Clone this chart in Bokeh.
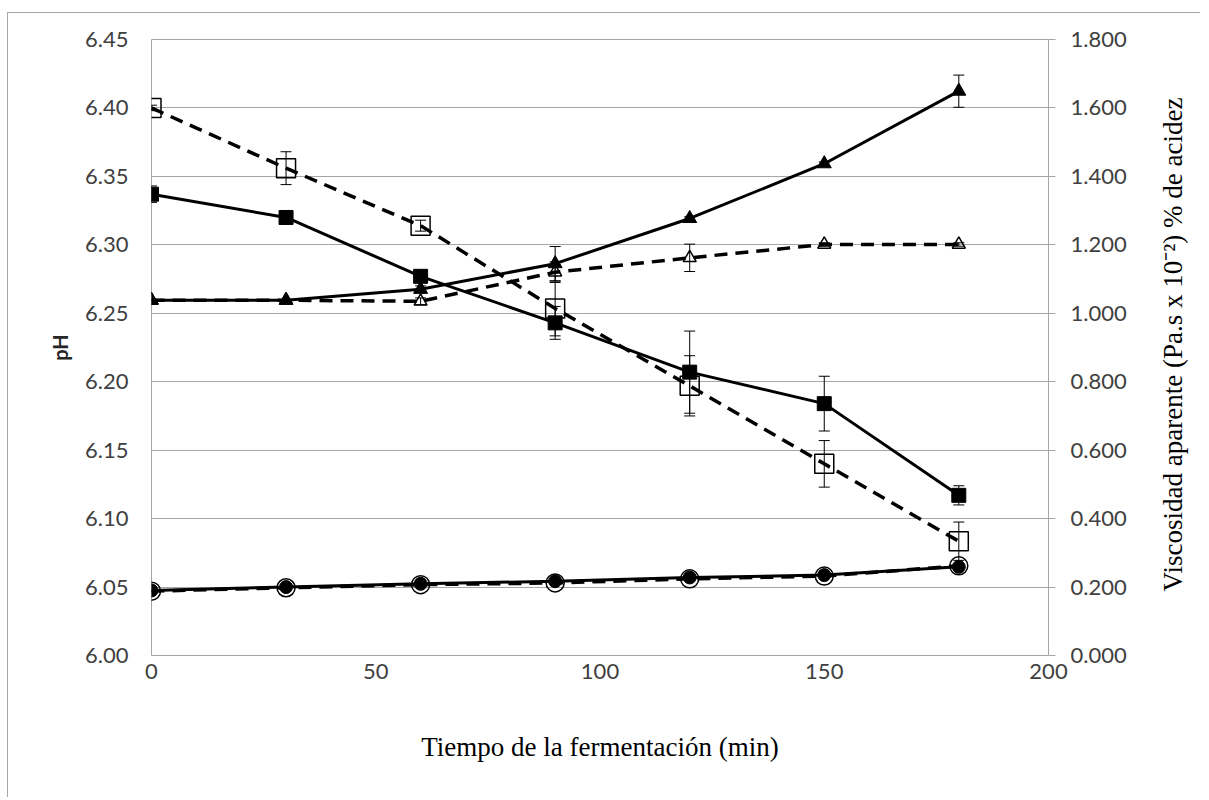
import math
from bokeh.plotting import figure
from bokeh.layouts import row
from bokeh.models import (Range1d, LinearAxis, FixedTicker, NumeralTickFormatter,
                          Whisker, TeeHead, ColumnDataSource, Label)
from bokeh.embed import file_html
from bokeh.resources import INLINE

# ---- data ----
tiempo = [0, 30, 60, 90, 120, 150, 180]

ph_lleno = [6.337, 6.320, 6.277, 6.243, 6.207, 6.184, 6.117]
ph_lleno_err = [0.006, 0.002, 0.003, 0.012, 0.030, 0.020, 0.007]
ph_vacio = [6.400, 6.356, 6.314, 6.2535, 6.197, 6.140, 6.0835]
ph_vacio_err = [0.002, 0.012, 0.004, 0.020, 0.022, 0.017, 0.014]

visc_lleno = [1.038, 1.038, 1.070, 1.145, 1.277, 1.437, 1.649]
visc_lleno_err = [0.0, 0.0, 0.010, 0.050, 0.005, 0.005, 0.047]
visc_vacio = [1.038, 1.038, 1.035, 1.120, 1.162, 1.201, 1.201]
visc_vacio_err = [0.0, 0.0, 0.010, 0.030, 0.040, 0.005, 0.005]

acid_lleno = [0.190, 0.200, 0.2095, 0.217, 0.228, 0.235, 0.259]
acid_vacio = [0.188, 0.198, 0.207, 0.212, 0.224, 0.232, 0.262]

x_ticks = [0, 50, 100, 150, 200]
ph_ticks = [6.00, 6.05, 6.10, 6.15, 6.20, 6.25, 6.30, 6.35, 6.40, 6.45]
der_ticks = [0.0, 0.2, 0.4, 0.6, 0.8, 1.0, 1.2, 1.4, 1.6, 1.8]

right_title = "Viscosidad aparente (Pa.s x 10\u207b\u00b2) % de acidez"

GRAY = "#a6a6a6"
TICK_COLOR = "#404040"

p = figure(width=1132, height=784, x_range=Range1d(0, 200), y_range=Range1d(6.0, 6.45),
           output_backend="svg", toolbar_location=None,
           min_border_left=143, min_border_right=92, min_border_top=26, min_border_bottom=142)
p.extra_y_ranges = {"der": Range1d(0, 1.8)}
p.background_fill_color = "white"
p.border_fill_color = "white"
p.outline_line_color = GRAY
p.outline_line_width = 1
p.outline_line_alpha = 1

# grid
p.xgrid.visible = False
p.ygrid.ticker = FixedTicker(ticks=ph_ticks)
p.ygrid.grid_line_color = GRAY
p.ygrid.grid_line_width = 1

# x axis
xa = p.xaxis[0]
xa.ticker = FixedTicker(ticks=x_ticks)
xa.axis_line_color = None
xa.major_tick_in = 0
xa.major_tick_out = 0
xa.minor_tick_line_color = None
xa.major_label_text_font = "Lato"
xa.major_label_text_font_size = "22px"
xa.major_label_text_color = TICK_COLOR
xa.major_label_standoff = 8
xa.axis_label = "Tiempo de la fermentación (min)"
xa.axis_label_text_font = "Liberation Serif"
xa.axis_label_text_font_style = "normal"
xa.axis_label_text_font_size = "27px"
xa.axis_label_text_color = "black"
xa.axis_label_standoff = 50

# left axis
ya = p.yaxis[0]
ya.ticker = FixedTicker(ticks=ph_ticks)
ya.formatter = NumeralTickFormatter(format="0.00")
ya.axis_line_color = None
ya.major_tick_in = 0
ya.major_tick_out = 0
ya.minor_tick_line_color = None
ya.major_label_text_font = "Lato"
ya.major_label_text_font_size = "22px"
ya.major_label_text_color = TICK_COLOR
ya.major_label_standoff = 23
ya.axis_label = "pH"
ya.axis_label_text_font = "Lato"
ya.axis_label_text_font_style = "bold"
ya.axis_label_text_font_size = "20px"
ya.axis_label_text_color = "#262626"
ya.axis_label_standoff = 10

# right axis
ra = LinearAxis(y_range_name="der", ticker=FixedTicker(ticks=der_ticks),
                formatter=NumeralTickFormatter(format="0.000"))
ra.axis_line_color = None
ra.major_tick_in = 0
ra.major_tick_out = 7
ra.major_tick_line_color = GRAY
ra.minor_tick_line_color = None
ra.major_label_text_font = "Lato"
ra.major_label_text_font_size = "22px"
ra.major_label_text_color = TICK_COLOR
ra.major_label_standoff = 15
p.add_layout(ra, "right")


def whiskers(vals, errs, rng=None):
    xs, up, lo = [], [], []
    for t, v, e in zip(tiempo, vals, errs):
        if e > 0:
            xs.append(t)
            up.append(v + e)
            lo.append(v - e)
    src = ColumnDataSource(dict(x=xs, upper=up, lower=lo))
    kw = {}
    if rng:
        kw["y_range_name"] = rng
    w = Whisker(base="x", upper="upper", lower="lower", source=src,
                line_color="black", line_width=1,
                upper_head=TeeHead(size=11, line_color="black", line_width=1),
                lower_head=TeeHead(size=11, line_color="black", line_width=1), **kw)
    p.add_layout(w)


whiskers(ph_lleno, ph_lleno_err)
whiskers(ph_vacio, ph_vacio_err)
whiskers(visc_lleno, visc_lleno_err, "der")
whiskers(visc_vacio, visc_vacio_err, "der")

DASH = "13 8"

# pH series (left axis)
p.line(tiempo, ph_vacio, line_color="black", line_width=3.5, line_dash=DASH)
p.scatter(tiempo, ph_vacio, marker="square", size=19, fill_alpha=0,
          line_color="black", line_width=1.5)
p.line(tiempo, ph_lleno, line_color="black", line_width=3)
p.scatter(tiempo, ph_lleno, marker="square", size=14, fill_color="black", line_color="black")

# viscosity series (right axis)
p.line(tiempo, visc_vacio, line_color="black", line_width=3.5, line_dash=DASH, y_range_name="der")
p.scatter(tiempo, visc_vacio, marker="triangle", size=13, fill_alpha=0,
          line_color="black", line_width=1.5, y_range_name="der")
p.line(tiempo, visc_lleno, line_color="black", line_width=3, y_range_name="der")
p.scatter(tiempo, visc_lleno, marker="triangle", size=14, fill_color="black",
          line_color="black", y_range_name="der")

# acidity series (right axis)
p.line(tiempo, acid_vacio, line_color="black", line_width=3.5, line_dash=DASH, y_range_name="der")
p.scatter(tiempo, acid_vacio, marker="circle", size=18, fill_alpha=0,
          line_color="black", line_width=1.5, y_range_name="der")
p.line(tiempo, acid_lleno, line_color="black", line_width=3, y_range_name="der")
p.scatter(tiempo, acid_lleno, marker="circle", size=13, fill_color="black",
          line_color="black", y_range_name="der")

# narrow companion panel carrying the right-hand axis title (reads bottom-to-top)
p2 = figure(width=60, height=784, x_range=Range1d(0, 60), y_range=Range1d(0, 616),
            output_backend="svg", toolbar_location=None, x_axis_type=None, y_axis_type=None,
            min_border_left=0, min_border_right=0, min_border_top=26, min_border_bottom=142)
p2.outline_line_color = None
p2.grid.visible = False
p2.background_fill_color = "white"
p2.border_fill_color = "white"
p2.add_layout(Label(x=32, y=311, text=right_title, angle=math.pi / 2,
                    text_align="center", text_baseline="middle",
                    text_font="serif", text_font_size="27px",
                    text_color="black"))

layout = row(p, p2, spacing=0)
layout.styles = {"border-top": "1px solid #a6a6a6", "border-left": "1px solid #a6a6a6",
                 "margin-top": "12px", "margin-left": "7px"}

open("out.html", "w").write(file_html(layout, INLINE))
